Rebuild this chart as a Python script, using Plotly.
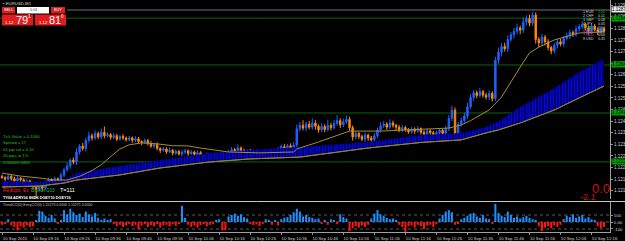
import numpy as np
import plotly.graph_objects as go

W, H = 625, 241
MR, MB = 15, 8
PW, PH = W - MR, H - MB  # plot area 610 x 233

BASE = 1.11922  # price corresponding to 0 pips

# ---------------- data (pips above BASE) ----------------
first_open = 24.0
closes = [
    23.5, 22.8, 24.0, 23.0, 22.0, 23.2, 22.5, 21.0, 22.0, 20.5,
    19.5, 18.5, 20.0, 19.0, 21.5, 22.5, 21.8, 23.0, 22.4, 24.5,
    26.8, 28.5, 31.0, 30.2, 34.5, 37.0, 36.0, 39.5, 41.5, 40.5,
    42.5, 41.0, 43.0, 41.5, 42.0, 40.8, 41.5, 40.0, 41.2, 40.5,
    39.8, 40.6, 39.5, 40.2, 39.0, 38.6, 39.4, 38.2, 37.0, 37.8,
    36.0, 35.2, 35.8, 34.6, 35.2, 34.0, 34.8, 33.6, 34.4, 35.0,
    33.8, 34.5, 33.5, 34.2, 33.0, 32.4, 33.4, 32.0, 31.5, 32.8,
    31.8, 32.5, 33.2, 34.0, 35.5, 35.0, 36.2, 35.0, 34.2, 35.0,
    33.5, 34.4, 33.0, 32.6, 33.8, 32.8, 34.0, 33.2, 34.5, 35.6,
    36.8, 35.8, 37.2, 36.0, 37.5, 44.5, 46.0, 44.8, 46.5, 45.2,
    47.0, 45.6, 44.0, 45.5, 44.2, 46.0, 45.0, 46.8, 48.0, 46.2,
    47.5, 48.5, 45.0, 41.0, 42.5, 41.2, 40.0, 41.8, 40.5, 39.8,
    41.5, 44.0, 45.8, 46.5, 45.2, 47.0, 46.0, 45.2, 44.0, 45.0,
    44.2, 43.2, 44.4, 43.5, 44.6, 43.0, 42.2, 43.6, 42.8, 41.5,
    42.8, 43.8, 42.5, 44.5, 49.0, 52.5, 41.0, 46.5, 48.0, 50.0,
    54.0, 58.0, 60.0, 58.8, 60.5, 59.0, 58.2, 59.8, 57.5, 74.0,
    77.5, 80.0, 79.0, 83.0, 85.0, 86.5, 88.0, 87.0, 90.5, 92.0,
    90.0, 93.5, 83.0, 81.5, 84.0, 82.0, 79.5, 78.0, 80.5, 82.0,
    81.0, 83.5, 84.5, 86.0, 85.2, 87.5, 88.5, 89.5, 88.0, 86.5,
    88.8, 87.2, 86.0, 87.5, 86.8,
]
hi_wick = [
    0.8, 0.5, 1.2, 0.6, 0.9, 1.0, 0.5, 0.7, 1.1, 0.6,
    0.9, 0.5, 1.3, 0.8, 0.6, 1.0, 0.7, 0.9, 0.5, 1.2,
    1.0, 1.5, 0.8, 1.2, 1.6, 0.9, 1.4, 1.1, 1.8, 1.0,
    1.3, 0.8, 1.6, 2.5, 1.0, 0.7, 1.2, 0.8, 0.6, 1.0,
    0.7, 0.9, 0.6, 1.1, 0.8, 0.5, 0.9, 0.7, 1.0, 0.6,
    0.8, 0.5, 0.9, 0.7, 1.2, 0.6, 0.8, 0.5, 1.0, 0.9,
    0.6, 0.8, 0.5, 1.0, 0.7, 0.6, 0.9, 0.5, 0.8, 0.7,
    1.0, 0.6, 0.9, 1.4, 1.2, 0.8, 1.5, 0.7, 0.9, 0.6,
    0.8, 0.5, 1.0, 0.7, 0.6, 0.9, 0.5, 0.8, 1.1, 1.0,
    0.9, 1.2, 0.8, 1.0, 1.3, 1.8, 1.5, 2.2, 1.0, 1.4,
    2.0, 1.2, 0.8, 1.5, 1.0, 2.4, 1.1, 1.6, 2.5, 1.0,
    1.4, 1.8, 1.2, 0.9, 1.0, 0.7, 0.8, 1.1, 0.6, 0.9,
    1.2, 1.0, 1.5, 1.3, 0.8, 1.6, 1.0, 0.7, 0.9, 1.2,
    0.8, 0.6, 1.0, 0.7, 1.1, 0.5, 0.9, 1.0, 0.6, 0.8,
    0.9, 1.0, 0.7, 1.3, 1.5, 2.0, 1.2, 1.0, 1.4, 1.6,
    1.8, 1.5, 1.2, 1.0, 1.6, 0.8, 1.0, 1.2, 0.9, 1.5,
    2.0, 1.4, 1.6, 1.8, 1.2, 1.5, 1.8, 1.0, 2.0, 1.4,
    1.6, 1.5, 1.2, 1.0, 1.4, 0.9, 1.1, 0.8, 1.0, 1.2,
    1.3, 1.0, 1.4, 1.2, 0.9, 1.5, 1.1, 1.3, 0.8, 1.0,
    1.2, 0.9, 1.0, 1.1, 0.8,
]
lo_wick = [
    0.6, 0.9, 0.5, 1.0, 0.8, 0.7, 1.2, 0.9, 0.6, 1.1,
    1.0, 4.0, 0.8, 1.2, 0.7, 0.9, 0.6, 1.0, 0.8, 0.7,
    0.9, 0.8, 1.2, 1.0, 1.4, 1.1, 0.9, 1.3, 1.0, 1.2,
    0.8, 1.0, 0.9, 1.1, 0.7, 1.0, 0.8, 0.9, 0.6, 0.8,
    0.9, 0.6, 1.0, 0.7, 0.8, 1.2, 0.6, 0.9, 0.7, 1.0,
    0.8, 1.1, 0.6, 0.9, 0.7, 1.0, 0.8, 0.6, 0.9, 0.7,
    1.0, 0.7, 0.8, 0.6, 0.9, 1.2, 0.7, 1.0, 1.5, 0.8,
    0.9, 0.7, 1.0, 0.8, 0.6, 0.9, 1.0, 0.7, 0.8, 1.1,
    0.7, 0.9, 0.8, 1.0, 0.6, 0.9, 0.7, 1.1, 0.8, 0.6,
    0.8, 1.0, 0.7, 0.9, 0.8, 1.4, 1.2, 1.0, 1.3, 0.9,
    1.1, 1.5, 1.2, 0.9, 1.3, 1.0, 1.2, 0.8, 1.0, 1.4,
    1.0, 0.8, 1.3, 1.6, 1.0, 1.2, 0.9, 1.1, 1.3, 0.9,
    0.8, 1.0, 1.2, 0.9, 1.1, 0.8, 1.0, 1.3, 0.9, 1.1,
    1.0, 0.8, 0.9, 1.2, 0.7, 1.0, 0.9, 0.8, 1.1, 0.9,
    0.8, 1.0, 0.9, 0.7, 1.0, 1.2, 1.5, 1.4, 1.0, 1.2,
    1.3, 1.0, 1.5, 1.2, 0.9, 1.1, 1.0, 1.3, 1.2, 1.0,
    1.5, 1.8, 1.2, 1.4, 1.0, 1.6, 1.3, 1.8, 1.2, 1.5,
    1.4, 1.2, 1.8, 2.0, 1.5, 1.6, 1.2, 1.4, 1.0, 1.3,
    1.0, 1.2, 0.9, 1.3, 1.1, 1.0, 1.2, 0.8, 1.1, 1.3,
    1.0, 0.8, 1.2, 0.9, 1.1,
]

ma_idx = [0, 6, 12, 17, 21, 25, 29, 32, 35, 38, 41, 45, 50, 55, 60, 64, 73, 83, 94,
          95, 102, 110, 112, 122, 135, 144, 148, 151, 157, 161, 167, 170, 173, 178, 186, 194]
ma_vals = [25.4, 24.1, 23.3, 22.4, 22.4, 24.0, 26.5, 29.0, 32.5, 35.8, 37.6, 38.4, 38.0, 37.2, 37.1, 36.2, 34.5, 34.1, 34.5,
           35.8, 38.8, 42.7, 43.5, 43.5, 44.4, 44.8, 46.1, 48.0, 52.6, 58.2, 71.1, 77.2, 79.7, 82.8, 85.8, 86.2]

band_idx = [0, 12, 20, 24, 38, 51, 67, 80, 96, 118, 135, 148, 156, 160, 167, 178, 186, 194]
band_top = [22.0, 21.6, 22.4, 25.4, 28.5, 31.0, 34.1, 35.4, 36.6, 38.8, 41.8, 42.7, 45.3, 47.6, 53.9, 62.1, 69.0, 74.6]
band_bot = [19.4, 19.8, 21.1, 22.4, 24.6, 27.6, 30.2, 31.5, 32.3, 36.2, 38.6, 39.7, 42.7, 44.0, 47.0, 52.6, 57.8, 62.9]

level_lines = [92.2, 72.0, 51.3, 30.2]
ask_line = 95.7

hist_vals = [
    -40, -30, 40, -50, -70, -120, -60, -80, -50, -70,
    -60, 30, 160, 150, 90, 60, 100, 50, -20, 20,
    170, 110, 190, 140, 100, 120, 70, 150, 110, 80,
    130, 60, 30, 50, 20, 40, -20, -60, -40, -70,
    -50, -30, -60, -40, -110, -50, -30, -70, -45, -60,
    -30, -80, -50, -40, -65, -30, -55, -20, 230, 60,
    -40, -70, -50, -80, -45, -30, -60, -40, -20, 30,
    40, -120, -115, 80, 100, 120, 90, 110, 70, 50,
    -30, -45, -35, -60, -25, 40, 30, -40, 20, -50,
    40, 60, 70, 100, 140, 190, 150, 80, 100, 70,
    60, 40, 50, -20, 30, -40, 40, 20, -30, 110,
    70, 50, -130, -90, -60, -80, -50, -70, -40, 50,
    120, 170, 110, 90, 60, 40, 50, 30, -40, -70,
    -150, -60, -50, -80, -40, -60, -100, -50, -40, -70,
    -30, 50, 100, 150, 170, 140, -40, -20, 40, 60,
    90, 120, 130, 80, 60, 100, 50, 40, -20, 260,
    130, 90, 70, 150, 100, 60, 80, 50, 70, 90,
    60, 40, 30, -60, -130, -80, -60, -90, -50, -70,
    -40, 40, 90, 70, 110, 60, 80, 100, 50, 70,
    40, 30, -60, -90, -70,
]
hist_levels = [100, 0, -100]

time_tick_idx = [0, 10, 20, 30, 40, 50, 60, 70, 80, 90, 100, 110, 120, 130, 140, 150, 160, 170, 180, 190]
time_tick_labels = ["10 Sep 2015", "10 Sep 09:16", "10 Sep 09:26", "10 Sep 09:36", "10 Sep 09:46",
                    "10 Sep 09:56", "10 Sep 10:06", "10 Sep 10:16", "10 Sep 10:26", "10 Sep 10:36",
                    "10 Sep 10:46", "10 Sep 10:56", "10 Sep 11:06", "10 Sep 11:16", "10 Sep 11:26",
                    "10 Sep 11:36", "10 Sep 11:46", "10 Sep 11:56", "10 Sep 12:06", "10 Sep 12:16"]

# ---------------- derived ----------------
def price(a):
    return BASE + np.asarray(a, dtype=float) / 10000.0

c = np.array(closes)
o = np.array([first_open] + closes[:-1])
hi = np.maximum(o, c) + np.array(hi_wick)
lo = np.minimum(o, c) - np.array(lo_wick)
idx = np.arange(len(closes))

BLUE = "#1F62FF"
ORANGE = "#FF8A00"
OLIVE = "#948228"
MACOL = "#A88C30"
FONT = "Liberation Sans"

def X(px):
    return px / PW

def Y(py):
    return (PH - py) / PH

fig = go.Figure()

# band (vertical-striped cloud)
fig.add_trace(go.Scatter(x=band_idx, y=price(band_bot), mode="lines",
                         line=dict(color=OLIVE, width=1), hoverinfo="skip"))
fig.add_trace(go.Scatter(x=band_idx, y=price(band_top), mode="lines",
                         line=dict(color="#0000FF", width=0), fill="tonexty",
                         fillcolor="black",
                         fillpattern=dict(shape="|", fgcolor="#0000FF", bgcolor="black",
                                          size=3, solidity=0.6),
                         hoverinfo="skip"))
fig.add_trace(go.Scatter(x=band_idx, y=price(band_bot), mode="lines",
                         line=dict(color=OLIVE, width=1), hoverinfo="skip"))
# moving average
fig.add_trace(go.Scatter(x=ma_idx, y=price(ma_vals), mode="lines",
                         line=dict(color=MACOL, width=1), hoverinfo="skip"))
# candles
fig.add_trace(go.Candlestick(
    x=idx, open=price(o), high=price(hi), low=price(lo), close=price(c),
    increasing=dict(line=dict(color=BLUE, width=1), fillcolor=BLUE),
    decreasing=dict(line=dict(color=ORANGE, width=1), fillcolor=ORANGE),
    whiskerwidth=0, hoverinfo="skip"))

# lower histogram
hcolors = ["#1E8FFF" if v > 0 else "#FF1414" for v in hist_vals]
fig.add_trace(go.Bar(x=idx, y=hist_vals, marker=dict(color=hcolors, line=dict(width=0)),
                     xaxis="x2", yaxis="y2", hoverinfo="skip"))

px_per_bar = 3.103
r0 = -2.0 / px_per_bar
r1 = r0 + PW / px_per_bar

shapes = []
# horizontal levels
for lv in level_lines:
    shapes.append(dict(type="line", xref="paper", yref="y", x0=0, x1=1, y0=price(lv), y1=price(lv),
                       line=dict(color="#0A640A", width=1), layer="below"))
shapes.append(dict(type="line", xref="paper", yref="y", x0=X(67), x1=1, y0=price(ask_line), y1=price(ask_line),
                   line=dict(color="#6C6C7C", width=1), layer="below"))
for lv in hist_levels:
    shapes.append(dict(type="line", xref="paper", yref="y2", x0=0, x1=1, y0=lv, y1=lv,
                       line=dict(color="#5A5A5A", width=1, dash="dot"), layer="below"))
# separator between panels
shapes.append(dict(type="line", xref="paper", yref="paper", x0=0, x1=X(625), y0=Y(201.5), y1=Y(201.5),
                   line=dict(color="#C8C8C8", width=1)))

# trade panel
def rect(x0, y0, x1, y1, color):
    shapes.append(dict(type="rect", xref="paper", yref="paper", x0=X(x0), x1=X(x1), y0=Y(y1), y1=Y(y0),
                       fillcolor=color, line=dict(width=0), layer="above"))

rect(2, 7, 15, 13.5, "#D42020")
rect(17, 7, 49, 13.5, "#FFFFFF")
rect(51, 7, 65, 13.5, "#D42020")
rect(2, 14.5, 33, 25.5, "#E01C1C")
rect(35, 14.5, 66, 25.5, "#E01C1C")

ann = []

def txt(x, y, s, size=4.5, color="#D0D0D0", anchor="left", bold=False, bg=None):
    d = dict(xref="paper", yref="paper", x=X(x), y=Y(y), text=("<b>%s</b>" % s) if bold else s,
             showarrow=False, xanchor=anchor, yanchor="middle",
             font=dict(size=size, color=color, family=FONT), borderpad=0)
    if bg:
        d["bgcolor"] = bg
    ann.append(d)

txt(2, 3.2, "▪ EURUSD,M1", 4.3, "#D8D8D8")
txt(8.5, 10.3, "SELL", 3.8, "white", "center")
txt(33, 10.3, "0.01", 3.8, "#404040", "center")
txt(58, 10.3, "BUY", 3.8, "white", "center")
txt(9.5, 22, "1.12", 4.3, "white", "center")
txt(22, 19.5, "79", 11, "white", "center")
txt(29.5, 16.8, "1", 4.5, "white", "center")
txt(43, 22, "1.12", 4.3, "white", "center")
txt(55, 19.5, "81", 11, "white", "center")
txt(62.5, 16.8, "0", 4.5, "white", "center")

# currency strength table (top right)
table_rows = [("1 EUR", "1.20", "#D0D0D0", "#00D000"), ("2 CHF", "0.11", "#D0D0D0", "#D0D0D0"),
              ("3 GBP", "0.08", "#D0D0D0", "#D0D0D0"), ("4 JPY", "0.05", "#D0D0D0", "#D0D0D0"),
              ("5 CAD", "0.00", "#00C000", "#D0D0D0"), ("6 AUD", "0.00", "#B040FF", "#D0D0D0"),
              ("7 NZD", "0.00", "#B040FF", "#D0D0D0"), ("8 USD", "0.45", "#D0D0D0", "#D0D0D0")]
for k, (lab, val, lc, vc) in enumerate(table_rows):
    yy = 12 + k * 3.9
    txt(582, yy, lab, 3.6, lc)
    txt(597, yy, val, 3.6, vc)

# info texts (left)
info = ["Tick Value = 0.1000", "Spread = 17", "01 pip val = 0.10", "20 pips at 1%", "0.0064/0.0060"]
for k, s in enumerate(info):
    txt(2, 136 + k * 6.5, s, 4.2, "#20C020")
txt(2, 190, "RedUps", 4.8, "#FF2020")
txt(22, 190, "Ex", 4.8, "#FF2020")
txt(30, 190, "BlueDn103", 4.8, "#20B050")
txt(59, 190, "T=111", 5.5, "white")
txt(2, 197.5, "TY04 ADRY06 B6D6 DGEY10 DGEY16", 3.8, "white", bold=True)
txt(2, 204.5, "TrendCCI(0) EntryCCI(0) 1.15273 0.0000 1.15271 0.0000", 3.5, "#C0C0C0")
txt(601, 188, "0.0", 13, "#D01010", "center")
txt(588, 197, "-2.1", 9, "#D01010", "center")

# price labels on the axis for the horizontal lines
for lv in level_lines:
    ann.append(dict(xref="paper", yref="y", x=X(611), y=price(lv), text="%.5f" % price(lv),
                    showarrow=False, xanchor="left", yanchor="middle", bgcolor="#00A000",
                    font=dict(size=4.5, color="black", family=FONT), borderpad=0))
ann.append(dict(xref="paper", yref="y", x=X(611), y=price(ask_line), text="%.5f" % price(ask_line),
                showarrow=False, xanchor="left", yanchor="middle", bgcolor="#E8E8E8",
                font=dict(size=4.5, color="black", family=FONT), borderpad=0))

fig.update_layout(
    template="none",
    width=W, height=H,
    margin=dict(l=0, r=MR, t=0, b=MB, pad=0),
    paper_bgcolor="black", plot_bgcolor="black",
    showlegend=False, bargap=0.35, boxgap=0.35,
    shapes=shapes, annotations=ann,
    xaxis=dict(domain=[0, 1], range=[r0, r1], anchor="y", showgrid=False, zeroline=False,
               showticklabels=False, ticks="", showline=False, rangeslider=dict(visible=False),
               automargin=False),
    xaxis2=dict(domain=[0, 1], range=[r0, r1], anchor="y2", matches="x", showgrid=False, zeroline=False,
                tickvals=time_tick_idx, ticktext=time_tick_labels, ticks="outside", ticklen=2,
                tickcolor="#909090", tickfont=dict(size=4.3, color="#D0D0D0", family=FONT),
                showline=True, linecolor="#A0A0A0", linewidth=1, ticklabelshift=13,
                tickangle=0, automargin=False),
    yaxis=dict(domain=[(PH - 199) / PH, 1], range=[price(100 - 0.431 * 199), price(100)],
               side="right", anchor="x", showgrid=False, zeroline=False, dtick=0.0005,
               tick0=1.1290, tickformat=".4f", ticks="outside", ticklen=2, tickcolor="#909090",
               tickfont=dict(size=4.6, color="#D0D0D0", family=FONT), showline=True,
               linecolor="#A0A0A0", linewidth=1, automargin=False),
    yaxis2=dict(domain=[(PH - 232) / PH, (PH - 202) / PH], range=[-143, 286], side="right",
                anchor="x2", showgrid=False, zeroline=False, tickvals=hist_levels,
                ticktext=["100", "0.00", "-100"], ticks="outside", ticklen=2, tickcolor="#909090",
                tickfont=dict(size=4.3, color="#D0D0D0", family=FONT), showline=True,
                linecolor="#A0A0A0", linewidth=1, automargin=False),
)

fig.write_html("out.html")
